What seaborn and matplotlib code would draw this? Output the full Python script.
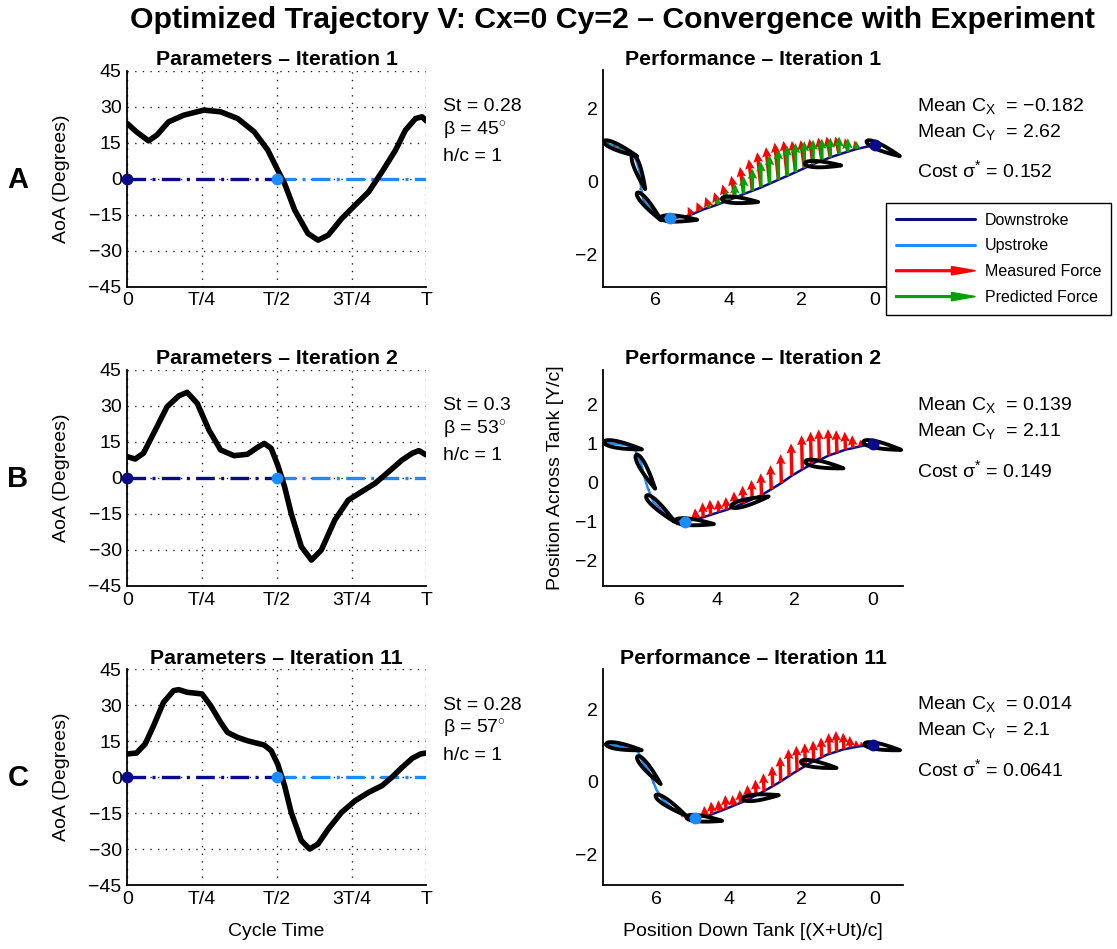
import numpy as np
import pandas as pd
import matplotlib
matplotlib.use("Agg")
import matplotlib.pyplot as plt
import seaborn as sns
from matplotlib.lines import Line2D
from matplotlib.patches import FancyArrow, Patch, Polygon
from matplotlib.legend_handler import HandlerPatch

sns.set_theme(style="white")
plt.rcParams["font.family"] = ["Liberation Sans", "DejaVu Sans"]
plt.rcParams["mathtext.fontset"] = "custom"
plt.rcParams["mathtext.rm"] = "Liberation Sans"
plt.rcParams["mathtext.it"] = "Liberation Sans:italic"
plt.rcParams["mathtext.bf"] = "Liberation Sans:bold"
plt.rcParams["axes.unicode_minus"] = True
for key in ("text.color", "axes.labelcolor", "xtick.color", "ytick.color", "axes.edgecolor"):
    plt.rcParams[key] = "black"

# ---------------------------------------------------------------- data
iterations = [1, 2, 11]
row_letters = ["A", "B", "C"]
strouhal = [0.28, 0.3, 0.28]
beta_deg = [45, 53, 57]
heave_ratio = [1, 1, 1]
mean_cx = [-0.182, 0.139, 0.014]
mean_cy = [2.62, 2.11, 2.1]
cost_sigma = [0.152, 0.149, 0.0641]

phase_ticks = [0, 0.25, 0.5, 0.75, 1.0]
phase_labels = ["0", "T/4", "T/2", "3T/4", "T"]
aoa_ticks = [-45, -30, -15, 0, 15, 30, 45]
pos_ticks_x = [0, 2, 4, 6]

# angle of attack over one cycle
aoa_t_1 = [0, 0.031, 0.071, 0.099, 0.138, 0.189, 0.256, 0.312, 0.369, 0.425, 0.470,
           0.503, 0.526, 0.560, 0.604, 0.638, 0.672, 0.717, 0.762, 0.807, 0.852,
           0.897, 0.930, 0.964, 0.986, 1.0]
aoa_deg_1 = [22.9, 19.4, 15.7, 18.1, 23.6, 26.4, 28.5, 27.8, 25.0, 19.4, 11.8,
             3.5, -2.1, -13.2, -22.9, -25.7, -23.6, -16.7, -11.1, -5.6, 2.8,
             11.8, 20.1, 25.0, 25.7, 24.0]
aoa_t_2 = [0, 0.026, 0.054, 0.088, 0.133, 0.172, 0.200, 0.234, 0.273, 0.312, 0.357,
           0.402, 0.436, 0.458, 0.481, 0.503, 0.526, 0.548, 0.582, 0.616, 0.649,
           0.694, 0.739, 0.784, 0.829, 0.874, 0.919, 0.953, 0.975, 1.0]
aoa_deg_2 = [8.9, 7.9, 10.3, 18.6, 29.7, 34.2, 35.7, 31.1, 20.0, 11.7, 9.3,
             9.9, 12.8, 14.4, 12.4, 5.4, -3.6, -14.7, -28.6, -34.2, -30.0,
             -17.5, -9.2, -5.7, -2.2, 2.6, 7.5, 10.3, 11.4, 9.6]
aoa_t_3 = [0, 0.031, 0.060, 0.088, 0.121, 0.155, 0.172, 0.200, 0.222, 0.250, 0.279,
           0.312, 0.335, 0.369, 0.402, 0.436, 0.458, 0.481, 0.503, 0.526, 0.548,
           0.582, 0.610, 0.638, 0.672, 0.717, 0.762, 0.807, 0.852, 0.885, 0.919,
           0.953, 0.981, 1.0]
aoa_deg_3 = [9.6, 10.0, 13.8, 21.4, 31.1, 36.0, 36.4, 35.3, 35.0, 34.6, 29.7,
             22.8, 18.6, 16.5, 15.1, 14.0, 13.3, 11.0, 5.4, -3.6, -14.7,
             -26.5, -30.0, -27.9, -21.7, -14.7, -9.9, -6.4, -3.6, -0.1, 4.0,
             7.8, 9.6, 10.0]

# trajectory in the tank frame (downstroke then upstroke)
down_x_1 = [0.0, 0.50, 0.86, 1.22, 1.68, 2.23, 2.64, 3.14, 3.59, 4.05, 4.40, 4.70, 4.95, 5.15, 5.35, 5.61]
down_y_1 = [1.0, 0.89, 0.78, 0.66, 0.48, 0.23, 0.05, -0.17, -0.34, -0.53, -0.66, -0.76, -0.87, -0.94, -0.97, -1.0]
up_x_1 = [5.61, 5.80, 5.97, 6.20, 6.34, 6.40, 6.45, 6.52, 6.61, 6.80, 6.98, 7.19, 7.60]
up_y_1 = [-1.0, -0.96, -0.89, -0.67, -0.49, -0.13, 0.32, 0.55, 0.73, 0.82, 0.90, 1.0, 1.1]

down_x_2 = [0.0, 0.30, 0.51, 0.70, 0.92, 1.13, 1.37, 1.58, 1.81, 2.08, 2.35, 2.61, 2.86,
            3.10, 3.33, 3.55, 3.76, 3.96, 4.17, 4.36, 4.55, 4.83]
down_y_2 = [1.0, 0.94, 0.89, 0.85, 0.77, 0.70, 0.58, 0.47, 0.34, 0.18, -0.01, -0.17, -0.32,
            -0.43, -0.53, -0.62, -0.70, -0.76, -0.83, -0.89, -0.94, -1.0]
up_x_2 = [4.83, 5.00, 5.21, 5.45, 5.64, 5.80, 5.90, 5.96, 6.11, 6.35, 6.67, 7.00]
up_y_2 = [-1.0, -0.97, -0.87, -0.68, -0.50, -0.10, 0.25, 0.50, 0.84, 0.97, 1.0, 1.05]

down_x_3 = [0.03, 0.40, 0.86, 1.32, 1.78, 2.24, 2.69, 3.15, 3.61, 4.07, 4.53, 4.94]
down_y_3 = [1.0, 0.98, 0.89, 0.74, 0.51, 0.23, -0.06, -0.32, -0.55, -0.74, -0.92, -1.0]
up_x_3 = [4.94, 5.20, 5.45, 5.82, 6.00, 6.23, 6.37, 6.51, 6.83, 7.15, 7.60]
up_y_3 = [-1.0, -0.95, -0.83, -0.51, -0.23, 0.32, 0.51, 0.83, 0.95, 1.0, 1.04]

# foil snapshots every T/6: pivot position and chord angle (deg)
foil_x_1 = [0.0, 1.67, 3.94, 5.61, 6.34, 6.54, 7.19]
foil_y_1 = [1.0, 0.48, -0.49, -1.0, -0.49, 0.50, 1.0]
foil_ang_1 = [-24, -3, -5, -3, -49, -70, -24]
foil_x_2 = [0.0, 1.49, 3.40, 4.83, 5.64, 5.96, 6.67]
foil_y_2 = [1.0, 0.50, -0.55, -1.0, -0.50, 0.50, 1.0]
foil_ang_2 = [-12, -10, 15, -5, -43, -61, -11]
foil_x_3 = [0.03, 1.78, 3.38, 4.94, 5.82, 6.37, 7.15]
foil_y_3 = [1.0, 0.51, -0.45, -1.0, -0.51, 0.51, 1.0]
foil_ang_3 = [-10, -10, 6, -6, -34, -50, -10]

# force vectors along the path
force_x_1 = [5.35, 5.02, 4.78, 4.54, 4.30, 4.07, 3.83, 3.59, 3.35, 3.12, 2.88, 2.64, 2.40,
             2.17, 1.93, 1.69, 1.45, 1.22, 0.98, 0.74, 0.50,
             6.10, 6.30, 6.42, 6.47, 6.75, 6.95, 7.10, 7.30]
force_y_1 = [-0.97, -0.90, -0.79, -0.71, -0.62, -0.53, -0.44, -0.34, -0.25, -0.15, -0.05, 0.05, 0.16,
             0.26, 0.37, 0.47, 0.58, 0.66, 0.75, 0.82, 0.89,
             -0.75, -0.55, -0.20, 0.20, 0.83, 0.89, 0.95, 1.03]
meas_u_1 = [0.08, 0.1, 0.1, 0.1, 0.1, 0.1, 0.1, 0.1, 0.1, 0.1, 0.1, 0.1, 0.1,
            0.1, 0.1, 0.1, 0.1, 0.1, 0.1, 0.08, 0.06,
            0.03, 0.03, 0.02, 0.02, 0.04, 0.04, 0.04, 0.04]
meas_v_1 = [0.10, 0.21, 0.23, 0.29, 0.33, 0.45, 0.60, 0.74, 0.86, 0.95, 0.99, 1.01, 0.95,
            0.85, 0.76, 0.69, 0.62, 0.57, 0.48, 0.36, 0.23,
            0.05, 0.05, 0.04, 0.04, 0.10, 0.12, 0.13, 0.12]
pred_u_1 = [0.0] * 29
pred_v_1 = [0.02, 0.04, 0.07, 0.13, 0.20, 0.29, 0.39, 0.49, 0.60, 0.70, 0.77, 0.83, 0.82,
            0.79, 0.73, 0.67, 0.59, 0.54, 0.48, 0.36, 0.21,
            0.02, 0.02, 0.02, 0.02, 0.05, 0.06, 0.06, 0.06]

force_x_2 = [4.55, 4.36, 4.17, 3.96, 3.76, 3.55, 3.33, 3.10, 2.86, 2.61, 2.35, 2.08, 1.81,
             1.58, 1.37, 1.13, 0.92, 0.70, 0.51, 0.30,
             5.05, 5.20, 5.50, 5.75, 5.90, 6.30, 6.55]
force_y_2 = [-0.94, -0.89, -0.83, -0.76, -0.70, -0.62, -0.53, -0.43, -0.32, -0.17, -0.01, 0.18, 0.34,
             0.47, 0.58, 0.70, 0.77, 0.85, 0.89, 0.94,
             -0.96, -0.88, -0.62, -0.20, 0.25, 0.96, 1.0]
meas_u_2 = [0.02] * 20 + [0.0] * 7
meas_v_2 = [0.28, 0.38, 0.39, 0.32, 0.33, 0.39, 0.45, 0.50, 0.56, 0.62, 0.74, 0.83, 0.88,
            0.84, 0.79, 0.68, 0.58, 0.46, 0.33, 0.17,
            -0.14, -0.10, 0.05, 0.05, 0.05, 0.08, 0.08]

force_x_3 = [4.67, 4.48, 4.28, 4.09, 3.89, 3.69, 3.48, 3.26, 3.04, 2.80, 2.58, 2.35, 2.13,
             1.90, 1.67, 1.45, 1.24, 1.04, 0.84, 0.66, 0.49, 0.35,
             5.15, 5.30, 5.60, 5.90, 6.10, 6.70, 7.00]
force_y_3 = [-0.95, -0.90, -0.82, -0.75, -0.66, -0.58, -0.47, -0.36, -0.26, -0.13, -0.01, 0.15, 0.30,
             0.43, 0.56, 0.67, 0.76, 0.83, 0.90, 0.94, 0.97, 0.99,
             -0.96, -0.90, -0.70, -0.40, -0.05, 0.92, 0.98]
meas_u_3 = [0.02] * 22 + [0.0] * 7
meas_v_3 = [0.28, 0.35, 0.31, 0.38, 0.29, 0.35, 0.38, 0.42, 0.49, 0.56, 0.70, 0.75, 0.69,
            0.63, 0.57, 0.55, 0.58, 0.57, 0.45, 0.32, 0.18, 0.12,
            -0.14, -0.10, 0.05, 0.05, 0.05, 0.08, 0.08]

# ---------------------------------------------------------------- layout
W, H = 1117, 949
DARK = "#0a0a8c"
LIGHT = "#1a8cff"
RED = "#ff0000"
GREEN = "#00a300"
FS = 14

fig = plt.figure(figsize=(W / 100, H / 100), dpi=100)


def fx(px):
    return px / W


def fy(py):
    return 1 - py / H


row_top = [70.5, 370.0, 669.0]
ax_h = 216.0
left_l, left_w = 127.3, 299.0
right_l, right_w = 603.3, 299.7
xlims = [(7.43, -0.77), (6.93, -0.78), (7.47, -0.79)]
ylims = [(-2.86, 3.03), (-2.66, 2.90), (-2.85, 3.11)]
yticks_r = [[-2, 0, 2], [-2, -1, 0, 1, 2], [-2, 0, 2]]

aoa_sets = [(aoa_t_1, aoa_deg_1), (aoa_t_2, aoa_deg_2), (aoa_t_3, aoa_deg_3)]
paths = [(down_x_1, down_y_1, up_x_1, up_y_1), (down_x_2, down_y_2, up_x_2, up_y_2),
         (down_x_3, down_y_3, up_x_3, up_y_3)]
foils = [(foil_x_1, foil_y_1, foil_ang_1), (foil_x_2, foil_y_2, foil_ang_2),
         (foil_x_3, foil_y_3, foil_ang_3)]
forces = [(force_x_1, force_y_1, meas_u_1, meas_v_1, pred_u_1, pred_v_1),
          (force_x_2, force_y_2, meas_u_2, meas_v_2, None, None),
          (force_x_3, force_y_3, meas_u_3, meas_v_3, None, None)]


def style_axes(ax):
    for side in ("top", "right"):
        ax.spines[side].set_visible(False)
    for side in ("left", "bottom"):
        ax.spines[side].set_color("black")
        ax.spines[side].set_linewidth(1.3)
    ax.tick_params(direction="in", length=4, width=1.0, colors="black",
                   labelcolor="black", labelsize=FS, pad=4)
    ax.set_facecolor("white")


def foil_shape(thick=0.17, n=40):
    s = np.linspace(0.0, 1.0, n)
    half = 5 * thick * (0.2969 * np.sqrt(s) - 0.1260 * s - 0.3516 * s ** 2
                        + 0.2843 * s ** 3 - 0.1036 * s ** 4)
    chord = np.concatenate([s, s[::-1]]) - 0.25
    normal = np.concatenate([half, -half[::-1]])
    return chord, normal


chord_pts, normal_pts = foil_shape()

for r in range(3):
    top = row_top[r]
    bottom_frac = fy(top + ax_h)
    h_frac = ax_h / H

    # ---------------- angle of attack panel
    axl = fig.add_axes([fx(left_l), bottom_frac, left_w / W, h_frac])
    style_axes(axl)
    t_vals, a_vals = aoa_sets[r]
    df = pd.DataFrame({"t": t_vals, "aoa": a_vals})
    axl.plot([0, 0.5], [0, 0], color=DARK, lw=2.4, dashes=(5.6, 1.9, 0.9, 1.9), zorder=2)
    axl.plot([0.5, 1.0], [0, 0], color=LIGHT, lw=2.4, dashes=(5.6, 1.9, 0.9, 1.9), zorder=2)
    sns.lineplot(data=df, x="t", y="aoa", sort=False, estimator=None, color="black",
                 lw=4.0, ax=axl, zorder=3, solid_joinstyle="round", solid_capstyle="round")
    axl.plot([0], [0], "o", color=DARK, ms=7.5, zorder=4, clip_on=False)
    axl.plot([0.5], [0], "o", color=LIGHT, ms=7.5, zorder=4, clip_on=False)
    axl.set_xlim(0, 1)
    axl.set_ylim(-45, 45)
    axl.set_xticks(phase_ticks)
    axl.set_xticklabels(phase_labels)
    axl.set_yticks(aoa_ticks)
    axl.set_yticklabels([str(v).replace("-", "\u2212") for v in aoa_ticks])
    axl.grid(True, color="#222222", linestyle=(0, (1, 4.5)), linewidth=1.0)
    axl.set_xlabel("")
    axl.set_ylabel("")

    # ---------------- trajectory / force panel
    axr = fig.add_axes([fx(right_l), bottom_frac, right_w / W, h_frac])
    style_axes(axr)
    dx, dy, ux, uy = paths[r]
    sns.lineplot(x=dx, y=dy, sort=False, estimator=None, color=DARK, lw=1.8, ax=axr, zorder=2)
    sns.lineplot(x=ux, y=uy, sort=False, estimator=None, color=LIGHT, lw=1.8, ax=axr, zorder=2)

    fx_, fy_, mu, mv, pu, pv = forces[r]
    qkw = dict(angles="xy", scale_units="xy", scale=1, width=0.0115,
               headwidth=2.8, headlength=2.9, headaxislength=2.6, minlength=0.5, zorder=3)
    axr.quiver(fx_, fy_, mu, mv, color=RED, **qkw)
    if pu is not None:
        axr.quiver(fx_, fy_, pu, pv, color=GREEN, **qkw)

    px, py, pang = foils[r]
    for x0, y0, ang in zip(px, py, pang):
        phi = np.deg2rad(ang)
        xs = x0 - chord_pts * np.cos(phi) + normal_pts * np.sin(phi)
        ys = y0 + chord_pts * np.sin(phi) + normal_pts * np.cos(phi)
        axr.add_patch(Polygon(np.column_stack([xs, ys]), closed=True, facecolor="none",
                              edgecolor="black", lw=2.8, joinstyle="round", zorder=4))

    axr.plot([dx[0]], [dy[0]], "o", color=DARK, ms=7.5, zorder=5)
    axr.plot([dx[-1]], [dy[-1]], "o", color=LIGHT, ms=7.5, zorder=5)
    axr.set_xlim(*xlims[r])
    axr.set_ylim(*ylims[r])
    axr.set_xticks(pos_ticks_x)
    axr.set_yticks(yticks_r[r])
    axr.set_yticklabels([str(v).replace("-", "\u2212") for v in yticks_r[r]])
    axr.set_xlabel("")
    axr.set_ylabel("")

    # ---------------- panel titles and annotations
    fig.text(fx(left_l + left_w / 2), fy(top - 11), f"Parameters \u2013 Iteration {iterations[r]}",
             ha="center", va="center", fontsize=15.3, fontweight="bold")
    fig.text(fx(right_l + right_w / 2), fy(top - 11), f"Performance \u2013 Iteration {iterations[r]}",
             ha="center", va="center", fontsize=15.3, fontweight="bold")
    fig.text(fx(18), fy(top + 109), row_letters[r], ha="center", va="center",
             fontsize=21, fontweight="bold")

    fig.text(fx(443), fy(top + 36), f"St = {strouhal[r]:g}", ha="left", va="center", fontsize=FS)
    fig.text(fx(443), fy(top + 60), f"\u03b2 = {beta_deg[r]}$^{{\\circ}}$", ha="left",
             va="center", fontsize=FS)
    fig.text(fx(443), fy(top + 86), f"h/c = {heave_ratio[r]:g}", ha="left", va="center", fontsize=FS)

    cx_txt = f"{mean_cx[r]:g}".replace("-", "\u2212")
    fig.text(fx(917), fy(top + 35), f"Mean C$_{{\\rm X}}$  = {cx_txt}", ha="left", va="center",
             fontsize=FS)
    fig.text(fx(917), fy(top + 61), f"Mean C$_{{\\rm Y}}$  = {mean_cy[r]:g}", ha="left",
             va="center", fontsize=FS)
    fig.text(fx(917), fy(top + 100), f"Cost \u03c3$^{{*}}$ = {cost_sigma[r]:g}", ha="left",
             va="center", fontsize=FS)

# axis labels
fig.text(fx(62), fy(178.5), "AoA (Degrees)", rotation=90, ha="center", va="center", fontsize=FS)
fig.text(fx(62), fy(478), "AoA (Degrees)", rotation=90, ha="center", va="center", fontsize=FS)
fig.text(fx(62), fy(777), "AoA (Degrees)", rotation=90, ha="center", va="center", fontsize=FS)
fig.text(fx(555), fy(478), "Position Across Tank [Y/c]", rotation=90, ha="center", va="center",
         fontsize=FS)
fig.text(fx(276), fy(932), "Cycle Time", ha="center", va="center", fontsize=FS)
fig.text(fx(753), fy(932), "Position Down Tank [(X+Ut)/c]", ha="center", va="center", fontsize=FS)

fig.text(fx(612), fy(20), "Optimized Trajectory V: Cx=0 Cy=2 \u2013 Convergence with Experiment",
         ha="center", va="center", fontsize=21.8, fontweight="bold")


# legend
def arrow_patch(legend, orig_handle, xdescent, ydescent, width, height, fontsize):
    return FancyArrow(-xdescent, height / 2 - ydescent, width, 0, width=height * 0.16,
                      head_width=height * 0.75, head_length=width * 0.3,
                      length_includes_head=True)


h_down = Line2D([], [], color=DARK, lw=2.2)
h_up = Line2D([], [], color=LIGHT, lw=2.2)
h_meas = Patch(color=RED)
h_pred = Patch(color=GREEN)
leg = fig.legend([h_down, h_up, h_meas, h_pred],
                 ["Downstroke", "Upstroke", "Measured Force", "Predicted Force"],
                 loc="upper left", bbox_to_anchor=(fx(886), fy(203)), borderaxespad=0,
                 fontsize=11.5, handlelength=5.0, handletextpad=0.6, labelspacing=0.68,
                 borderpad=0.6, frameon=True, fancybox=False, shadow=False,
                 handler_map={h_meas: HandlerPatch(patch_func=arrow_patch),
                              h_pred: HandlerPatch(patch_func=arrow_patch)})
leg.get_frame().set_edgecolor("black")
leg.get_frame().set_linewidth(1.0)
leg.get_frame().set_facecolor("white")
leg.get_frame().set_alpha(1.0)

fig.savefig("out.png", dpi=100, facecolor="white")
